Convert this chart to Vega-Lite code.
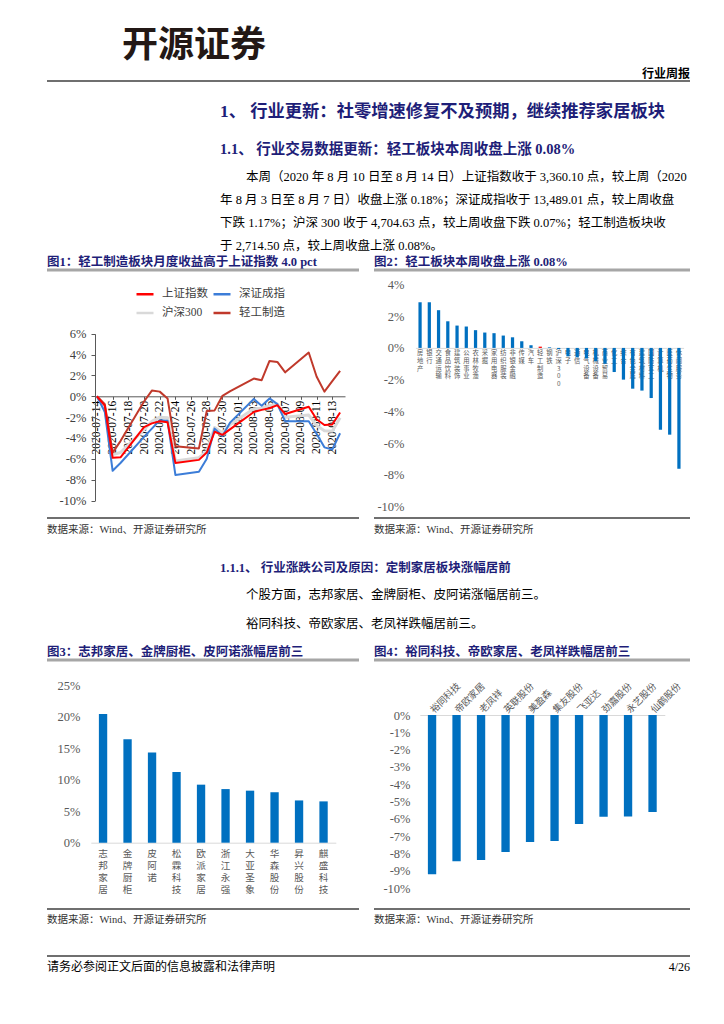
{
"$schema": "https://vega.github.io/schema/vega-lite/v6.json",
"padding": {"left": 45, "top": 0, "right": 0, "bottom": 0},
"background": "#ffffff",
"bounds": "flush",
"spacing": 0,
"config": {
  "view": {"stroke": null},
  "font": "Liberation Serif, Noto Sans CJK SC",
  "axis": {"grid": false},
  "title": {"anchor": "start", "frame": "group", "orient": "top", "baseline": "top", "font": "Liberation Serif, Noto Sans CJK SC"}
},
"vconcat": [
  {"width": 643, "height": 1, "data": {"values": []}, "mark": "point",
   "title": {"text": "开源证券", "offset": -65, "dx": 75, "fontSize": 36, "fontWeight": "bold", "color": "#231815", "font": "Noto Sans CJK SC"}},
  {"width": 643, "height": 1, "data": {"values": []}, "mark": "point",
   "title": {"text": "行业周报", "anchor": "end", "offset": -80, "fontSize": 12, "fontWeight": "bold", "color": "#000000", "font": "Noto Sans CJK SC"}},
  {"width": 643, "height": 1, "data": {"values": []}, "mark": "point",
   "title": {"text": "1、 行业更新：社零增速修复不及预期，继续推荐家居板块", "offset": -118, "dx": 173, "fontSize": 17.3, "fontWeight": "bold", "color": "#1E1E78"}},
  {"width": 643, "height": 1, "data": {"values": []}, "mark": "point",
   "title": {"text": "1.1、 行业交易数据更新：轻工板块本周收盘上涨 0.08%", "offset": -154, "dx": 173, "fontSize": 14.5, "fontWeight": "bold", "color": "#1E1E78"}},
  {"width": 643, "height": 1, "data": {"values": []}, "mark": "point",
   "title": {"text": "本周（2020 年 8 月 10 日至 8 月 14 日）上证指数收于 3,360.10 点，较上周（2020", "offset": -179, "dx": 199, "fontSize": 12.5, "fontWeight": "normal", "color": "#000000"}},
  {"width": 643, "height": 1, "data": {"values": []}, "mark": "point",
   "title": {"text": ["年 8 月 3 日至 8 月 7 日）收盘上涨 0.18%；深证成指收于 13,489.01 点，较上周收盘", "下跌 1.17%；沪深 300 收于 4,704.63 点，较上周收盘下跌 0.07%；轻工制造板块收", "于 2,714.50 点，较上周收盘上涨 0.08%。"], "lineHeight": 23, "offset": -247, "dx": 173, "fontSize": 12.5, "fontWeight": "normal", "color": "#000000"}},
  {"width": 643, "height": 1, "data": {"values": []}, "mark": "point",
   "title": {"text": "图1：轻工制造板块月度收益高于上证指数 4.0 pct", "offset": -262, "dx": 0, "fontSize": 12.5, "fontWeight": "bold", "color": "#1E1E78"}},
  {"width": 643, "height": 1, "data": {"values": []}, "mark": "point",
   "title": {"text": "图2：轻工板块本周收盘上涨 0.08%", "offset": -261, "dx": 327, "fontSize": 12.5, "fontWeight": "bold", "color": "#1E1E78"}},
  {"width": 643, "height": 1, "data": {"values": []}, "mark": "point",
   "title": {"text": "数据来源：Wind、开源证券研究所", "offset": -527.5, "dx": 0, "fontSize": 10.5, "fontWeight": "normal", "color": "#333333"}},
  {"width": 643, "height": 1, "data": {"values": []}, "mark": "point",
   "title": {"text": "数据来源：Wind、开源证券研究所", "offset": -526.5, "dx": 327, "fontSize": 10.5, "fontWeight": "normal", "color": "#333333"}},
  {"width": 643, "height": 1, "data": {"values": []}, "mark": "point",
   "title": {"text": "1.1.1、 行业涨跌公司及原因：定制家居板块涨幅居前", "offset": -564, "dx": 173, "fontSize": 12.5, "fontWeight": "bold", "color": "#1E1E78"}},
  {"width": 643, "height": 1, "data": {"values": []}, "mark": "point",
   "title": {"text": "个股方面，志邦家居、金牌厨柜、皮阿诺涨幅居前三。", "offset": -590, "dx": 199, "fontSize": 12.5, "fontWeight": "normal", "color": "#000000"}},
  {"width": 643, "height": 1, "data": {"values": []}, "mark": "point",
   "title": {"text": "裕同科技、帝欧家居、老凤祥跌幅居前三。", "offset": -618, "dx": 199, "fontSize": 12.5, "fontWeight": "normal", "color": "#000000"}},
  {"width": 643, "height": 1, "data": {"values": []}, "mark": "point",
   "title": {"text": "图3：志邦家居、金牌厨柜、皮阿诺涨幅居前三", "offset": -645, "dx": 0, "fontSize": 12.5, "fontWeight": "bold", "color": "#1E1E78"}},
  {"width": 643, "height": 1, "data": {"values": []}, "mark": "point",
   "title": {"text": "图4：裕同科技、帝欧家居、老凤祥跌幅居前三", "offset": -644, "dx": 327, "fontSize": 12.5, "fontWeight": "bold", "color": "#1E1E78"}},
  {"width": 643, "height": 1, "data": {"values": []}, "mark": "point",
   "title": {"text": "数据来源：Wind、开源证券研究所", "offset": -910.5, "dx": 0, "fontSize": 10.5, "fontWeight": "normal", "color": "#333333"}},
  {"width": 643, "height": 1, "data": {"values": []}, "mark": "point",
   "title": {"text": "数据来源：Wind、开源证券研究所", "offset": -909.5, "dx": 327, "fontSize": 10.5, "fontWeight": "normal", "color": "#333333"}},
  {"width": 643, "height": 1, "data": {"values": []}, "mark": "point",
   "title": {"text": "请务必参阅正文后面的信息披露和法律声明", "offset": -957, "dx": 0, "fontSize": 12, "fontWeight": "normal", "color": "#000000"}},
  {"width": 643, "height": 1, "data": {"values": []}, "mark": "point",
   "title": {"text": "4/26", "anchor": "end", "offset": -956, "fontSize": 12, "fontWeight": "normal", "color": "#000000"}},

  {"width": 643, "height": 62, "data": {"values": []}, "mark": "point"},
  {"width": 643, "height": 1, "data": {"values": []}, "mark": "point", "view": {"stroke": "#404040", "strokeWidth": 1.5, "strokeDash": [643, 5000]}},
  {"width": 643, "height": 187.5, "data": {"values": []}, "mark": "point"},
  {"width": 643, "height": 1, "data": {"values": []}, "mark": "point", "view": {"stroke": "#A6A6A6", "strokeWidth": 3, "strokeDash": [312, 15, 316, 5000]}},

  {"width": 643, "height": 246.5,
   "resolve": {"scale": {"x": "independent", "y": "independent", "color": "independent"}, "axis": {"x": "independent", "y": "independent"}},
   "layer": [
    {"data": {"values": [
      {"d":"2020/07/14","s":"沪深300","v":0},{"d":"2020/07/15","s":"沪深300","v":-1.2},{"d":"2020/07/16","s":"沪深300","v":-5.6},{"d":"2020/07/17","s":"沪深300","v":-5.4},{"d":"2020/07/20","s":"沪深300","v":-3.2},{"d":"2020/07/21","s":"沪深300","v":-2.4},{"d":"2020/07/22","s":"沪深300","v":-2.0},{"d":"2020/07/23","s":"沪深300","v":-2.05},{"d":"2020/07/24","s":"沪深300","v":-6.2},{"d":"2020/07/27","s":"沪深300","v":-5.9},{"d":"2020/07/28","s":"沪深300","v":-5.3},{"d":"2020/07/29","s":"沪深300","v":-3.0},{"d":"2020/07/30","s":"沪深300","v":-3.5},{"d":"2020/07/31","s":"沪深300","v":-2.7},{"d":"2020/08/03","s":"沪深300","v":-1.2},{"d":"2020/08/04","s":"沪深300","v":-1.15},{"d":"2020/08/05","s":"沪深300","v":-0.9},{"d":"2020/08/06","s":"沪深300","v":-0.75},{"d":"2020/08/07","s":"沪深300","v":-2.0},{"d":"2020/08/10","s":"沪深300","v":-1.8},{"d":"2020/08/11","s":"沪深300","v":-2.8},{"d":"2020/08/12","s":"沪深300","v":-3.3},{"d":"2020/08/13","s":"沪深300","v":-3.35},{"d":"2020/08/14","s":"沪深300","v":-2.05},
      {"d":"2020/07/14","s":"深证成指","v":0},{"d":"2020/07/15","s":"深证成指","v":-1.5},{"d":"2020/07/16","s":"深证成指","v":-7.15},{"d":"2020/07/17","s":"深证成指","v":-6.4},{"d":"2020/07/20","s":"深证成指","v":-3.9},{"d":"2020/07/21","s":"深证成指","v":-3.1},{"d":"2020/07/22","s":"深证成指","v":-2.3},{"d":"2020/07/23","s":"深证成指","v":-2.35},{"d":"2020/07/24","s":"深证成指","v":-7.55},{"d":"2020/07/27","s":"深证成指","v":-7.25},{"d":"2020/07/28","s":"深证成指","v":-6.0},{"d":"2020/07/29","s":"深证成指","v":-3.1},{"d":"2020/07/30","s":"深证成指","v":-3.8},{"d":"2020/07/31","s":"深证成指","v":-2.5},{"d":"2020/08/03","s":"深证成指","v":-0.25},{"d":"2020/08/04","s":"深证成指","v":-0.9},{"d":"2020/08/05","s":"深证成指","v":-0.2},{"d":"2020/08/06","s":"深证成指","v":-0.75},{"d":"2020/08/07","s":"深证成指","v":-2.4},{"d":"2020/08/10","s":"深证成指","v":-2.4},{"d":"2020/08/11","s":"深证成指","v":-3.6},{"d":"2020/08/12","s":"深证成指","v":-4.9},{"d":"2020/08/13","s":"深证成指","v":-5.1},{"d":"2020/08/14","s":"深证成指","v":-3.55},
      {"d":"2020/07/14","s":"轻工制造","v":0},{"d":"2020/07/15","s":"轻工制造","v":-0.75},{"d":"2020/07/16","s":"轻工制造","v":-5.4},{"d":"2020/07/17","s":"轻工制造","v":-4.3},{"d":"2020/07/20","s":"轻工制造","v":-0.5},{"d":"2020/07/21","s":"轻工制造","v":0.55},{"d":"2020/07/22","s":"轻工制造","v":0.45},{"d":"2020/07/23","s":"轻工制造","v":-0.2},{"d":"2020/07/24","s":"轻工制造","v":-4.8},{"d":"2020/07/27","s":"轻工制造","v":-5.0},{"d":"2020/07/28","s":"轻工制造","v":-1.4},{"d":"2020/07/29","s":"轻工制造","v":-1.35},{"d":"2020/07/30","s":"轻工制造","v":0.05},{"d":"2020/07/31","s":"轻工制造","v":0.5},{"d":"2020/08/03","s":"轻工制造","v":1.7},{"d":"2020/08/04","s":"轻工制造","v":1.55},{"d":"2020/08/05","s":"轻工制造","v":3.4},{"d":"2020/08/06","s":"轻工制造","v":3.3},{"d":"2020/08/07","s":"轻工制造","v":2.3},{"d":"2020/08/10","s":"轻工制造","v":4.2},{"d":"2020/08/11","s":"轻工制造","v":1.9},{"d":"2020/08/12","s":"轻工制造","v":0.45},{"d":"2020/08/13","s":"轻工制造","v":1.45},{"d":"2020/08/14","s":"轻工制造","v":2.45},
      {"d":"2020/07/14","s":"上证指数","v":0},{"d":"2020/07/15","s":"上证指数","v":-0.9},{"d":"2020/07/16","s":"上证指数","v":-5.9},{"d":"2020/07/17","s":"上证指数","v":-5.85},{"d":"2020/07/20","s":"上证指数","v":-2.95},{"d":"2020/07/21","s":"上证指数","v":-2.6},{"d":"2020/07/22","s":"上证指数","v":-2.4},{"d":"2020/07/23","s":"上证指数","v":-2.5},{"d":"2020/07/24","s":"上证指数","v":-6.4},{"d":"2020/07/27","s":"上证指数","v":-6.1},{"d":"2020/07/28","s":"上证指数","v":-5.4},{"d":"2020/07/29","s":"上证指数","v":-3.4},{"d":"2020/07/30","s":"上证指数","v":-3.7},{"d":"2020/07/31","s":"上证指数","v":-3.15},{"d":"2020/08/03","s":"上证指数","v":-1.5},{"d":"2020/08/04","s":"上证指数","v":-1.3},{"d":"2020/08/05","s":"上证指数","v":-1.15},{"d":"2020/08/06","s":"上证指数","v":-0.85},{"d":"2020/08/07","s":"上证指数","v":-1.7},{"d":"2020/08/10","s":"上证指数","v":-1.0},{"d":"2020/08/11","s":"上证指数","v":-2.2},{"d":"2020/08/12","s":"上证指数","v":-2.75},{"d":"2020/08/13","s":"上证指数","v":-2.7},{"d":"2020/08/14","s":"上证指数","v":-1.55}
     ]},
     "mark": {"type": "line", "strokeJoin": "round"},
     "encoding": {
      "x": {"field": "d", "type": "temporal",
        "scale": {"domain": [{"year": 2020, "month": "Jul", "date": 13, "hours": 18}, {"year": 2020, "month": "Aug", "date": 14, "hours": 15}], "range": [48, 298]},
        "axis": {"orient": "bottom", "offset": -121.2, "title": null, "format": "%Y-%m-%d", "labelAngle": -90, "labelFontSize": 11.5, "labelFont": "Liberation Serif", "labelColor": "#000000", "labelPadding": 1, "tickSize": 3, "domainColor": "#595959", "tickColor": "#595959", "labelFlush": false, "labelOverlap": false, "labelBound": false,
          "values": [{"year":2020,"month":"Jul","date":14},{"year":2020,"month":"Jul","date":16},{"year":2020,"month":"Jul","date":18},{"year":2020,"month":"Jul","date":20},{"year":2020,"month":"Jul","date":22},{"year":2020,"month":"Jul","date":24},{"year":2020,"month":"Jul","date":26},{"year":2020,"month":"Jul","date":28},{"year":2020,"month":"Jul","date":30},{"year":2020,"month":"Aug","date":1},{"year":2020,"month":"Aug","date":3},{"year":2020,"month":"Aug","date":5},{"year":2020,"month":"Aug","date":7},{"year":2020,"month":"Aug","date":9},{"year":2020,"month":"Aug","date":11},{"year":2020,"month":"Aug","date":13}]}},
      "y": {"field": "v", "type": "quantitative",
        "scale": {"domain": [-10, 6], "nice": false, "range": [229.5, 62.8]},
        "axis": {"orient": "left", "offset": -48, "title": null, "values": [-10, -8, -6, -4, -2, 0, 2, 4, 6], "labelExpr": "datum.value + '%'", "labelFontSize": 12.5, "labelFont": "Liberation Serif", "labelColor": "#404040", "labelPadding": 5, "tickSize": 4, "domainColor": "#595959", "tickColor": "#595959"}},
      "color": {"field": "s", "type": "nominal",
        "scale": {"domain": ["上证指数", "沪深300", "深证成指", "轻工制造"], "range": ["#FF0000", "#D9D9D9", "#3C7DD8", "#C0392B"]},
        "legend": {"orient": "none", "legendX": 88, "legendY": 13, "columns": 2, "title": null, "symbolType": "stroke", "symbolSize": 289, "symbolStrokeWidth": 2.5, "labelFontSize": 11.5, "labelFont": "Liberation Serif, Noto Sans CJK SC", "labelColor": "#404040", "labelOffset": 7, "columnPadding": 0, "rowPadding": 3}},
      "strokeWidth": {"condition": {"test": "datum.s === '沪深300'", "value": 3}, "value": 2}
     }
    },
    {"data": {"values": [
      {"ind":"房地产","v":2.88},{"ind":"银行","v":2.88},{"ind":"交通运输","v":2.38},{"ind":"食品饮料","v":1.68},{"ind":"建筑装饰","v":1.41},{"ind":"公用事业","v":1.35},{"ind":"农林牧渔","v":1.12},{"ind":"采掘","v":0.97},{"ind":"家用电器","v":0.93},{"ind":"纺织服装","v":0.78},{"ind":"非银金融","v":0.67},{"ind":"传媒","v":0.42},{"ind":"汽车","v":0.17},{"ind":"轻工制造","v":0.08},{"ind":"钢铁","v":0.04},{"ind":"沪深300","v":-0.07},{"ind":"电子","v":-0.53},{"ind":"通信","v":-0.59},{"ind":"电气设备","v":-0.67},{"ind":"机械设备","v":-0.84},{"ind":"商业贸易","v":-1.0},{"ind":"化工","v":-1.52},{"ind":"综合","v":-2.0},{"ind":"有色金属","v":-2.57},{"ind":"建筑材料","v":-2.69},{"ind":"国防军工","v":-3.16},{"ind":"计算机","v":-5.16},{"ind":"医药生物","v":-5.47},{"ind":"休闲服务","v":-7.62}
     ]},
     "mark": {"type": "bar"},
     "encoding": {
      "x": {"field": "ind", "type": "nominal", "sort": null,
        "scale": {"range": [368.4, 636.6], "paddingInner": 0.65, "paddingOuter": 0.33},
        "axis": {"orient": "bottom", "offset": -169.6, "title": null, "labelExpr": "split(datum.label, '')", "labelAngle": 0, "labelFontSize": 6.3, "labelLineHeight": 7.6, "labelBaseline": "top", "labelPadding": 2, "ticks": false, "domainColor": "#D9D9D9", "labelColor": "#595959", "labelFont": "Noto Sans CJK SC", "labelOverlap": false, "labelBound": false}},
      "y": {"field": "v", "type": "quantitative",
        "scale": {"domain": [-10, 4], "nice": false, "range": [235.5, 13.5]},
        "axis": {"orient": "left", "offset": -362, "title": null, "values": [-10, -8, -6, -4, -2, 0, 2, 4], "labelExpr": "datum.value + '%'", "domain": false, "ticks": false, "labelPadding": 5, "labelFontSize": 12.5, "labelFont": "Liberation Serif", "labelColor": "#595959"}},
      "color": {"condition": {"test": "datum.ind === '轻工制造'", "value": "#FF0000"}, "value": "#0070C0"}
     }
    }
   ]
  },

  {"width": 643, "height": 1, "data": {"values": []}, "mark": "point", "view": {"stroke": "#404040", "strokeWidth": 1.5, "strokeDash": [312, 15, 316, 5000]}},
  {"width": 643, "height": 141, "data": {"values": []}, "mark": "point"},
  {"width": 643, "height": 1, "data": {"values": []}, "mark": "point", "view": {"stroke": "#A6A6A6", "strokeWidth": 3, "strokeDash": [312, 15, 316, 5000]}},

  {"width": 643, "height": 248,
   "resolve": {"scale": {"x": "independent", "y": "independent"}, "axis": {"x": "independent", "y": "independent"}},
   "layer": [
    {"data": {"values": [
      {"co":"志邦家居","v":20.4},{"co":"金牌厨柜","v":16.4},{"co":"皮阿诺","v":14.3},{"co":"松霖科技","v":11.2},{"co":"欧派家居","v":9.2},{"co":"浙江永强","v":8.5},{"co":"大亚圣象","v":8.25},{"co":"华森股份","v":8.0},{"co":"昇兴股份","v":6.7},{"co":"麒盛科技","v":6.55}
     ]},
     "mark": {"type": "bar", "color": "#0070C0"},
     "encoding": {
      "x": {"field": "co", "type": "nominal", "sort": null,
        "scale": {"range": [43.8, 288.8], "paddingInner": 0.66, "paddingOuter": 0.33},
        "axis": {"orient": "bottom", "offset": -66.3, "title": null, "labelExpr": "split(datum.label, '')", "labelAngle": 0, "labelFontSize": 9.6, "labelLineHeight": 11.8, "labelBaseline": "top", "labelPadding": 6, "ticks": false, "domainColor": "#D9D9D9", "labelColor": "#595959", "labelFont": "Noto Sans CJK SC", "labelOverlap": false, "labelBound": false}},
      "y": {"field": "v", "type": "quantitative",
        "scale": {"domain": [0, 25], "nice": false, "range": [181.7, 24]},
        "axis": {"orient": "left", "offset": -38, "title": null, "values": [0, 5, 10, 15, 20, 25], "labelExpr": "datum.value + '%'", "domain": false, "ticks": false, "labelPadding": 5, "labelFontSize": 12.5, "labelFont": "Liberation Serif", "labelColor": "#595959"}}
     }
    },
    {"data": {"values": [
      {"co":"裕同科技","v":-9.19},{"co":"帝欧家居","v":-8.44},{"co":"老凤祥","v":-8.37},{"co":"英联股份","v":-7.9},{"co":"美盈森","v":-7.33},{"co":"集友股份","v":-7.27},{"co":"飞亚达","v":-6.29},{"co":"劲嘉股份","v":-5.87},{"co":"永艺股份","v":-5.85},{"co":"仙鹤股份","v":-5.6}
     ]},
     "mark": {"type": "bar", "color": "#0070C0"},
     "encoding": {
      "x": {"field": "co", "type": "nominal", "sort": null,
        "scale": {"range": [372.8, 617.8], "paddingInner": 0.66, "paddingOuter": 0.33},
        "axis": {"orient": "top", "offset": -54, "title": null, "labelAngle": -45, "labelAlign": "left", "labelBaseline": "middle", "labelFontSize": 9.5, "labelPadding": 4, "ticks": false, "domainColor": "#D9D9D9", "labelColor": "#595959", "labelFont": "Noto Sans CJK SC", "labelOverlap": false, "labelBound": false}},
      "y": {"field": "v", "type": "quantitative",
        "scale": {"domain": [-10, 0], "nice": false, "range": [227.3, 54]},
        "axis": {"orient": "left", "offset": -368, "title": null, "values": [-10, -9, -8, -7, -6, -5, -4, -3, -2, -1, 0], "labelExpr": "datum.value + '%'", "domain": false, "ticks": false, "labelPadding": 5, "labelFontSize": 12.5, "labelFont": "Liberation Serif", "labelColor": "#595959"}}
     }
    }
   ]
  },

  {"width": 643, "height": 1, "data": {"values": []}, "mark": "point", "view": {"stroke": "#404040", "strokeWidth": 1.5, "strokeDash": [312, 15, 316, 5000]}},
  {"width": 643, "height": 46, "data": {"values": []}, "mark": "point"},
  {"width": 643, "height": 1, "data": {"values": []}, "mark": "point", "view": {"stroke": "#404040", "strokeWidth": 1.5, "strokeDash": [643, 5000]}}
]
}
